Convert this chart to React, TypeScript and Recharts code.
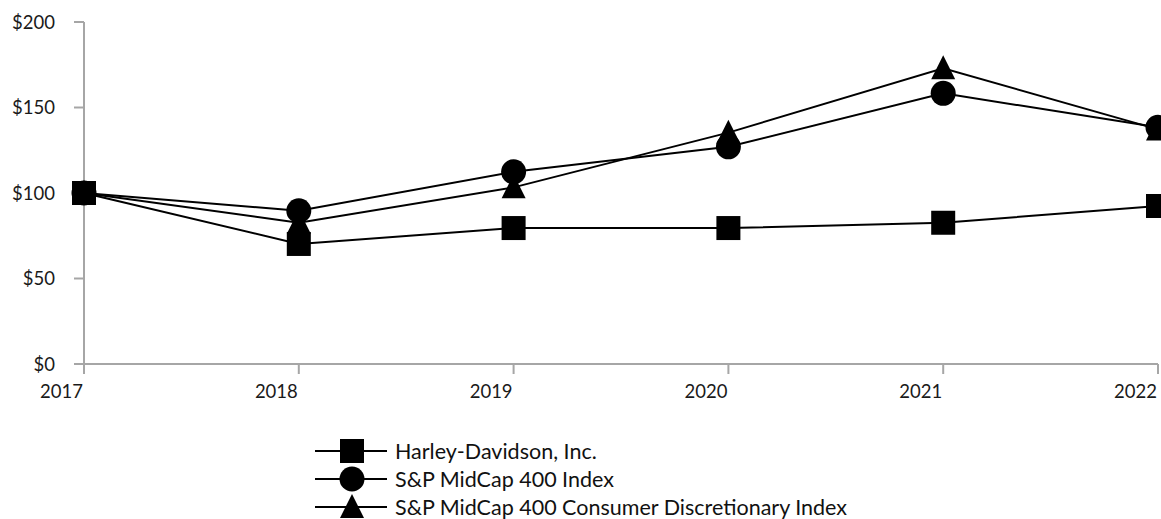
import { Line, LineChart, XAxis, YAxis } from "recharts";

const YEARS = ["2017", "2018", "2019", "2020", "2021", "2022"];
const HARLEY = [100, 70.2, 79.5, 79.5, 82.6, 92.4];
const MIDCAP = [100, 89.6, 112.4, 127, 158.3, 138.4];
const CONS_DISC = [100, 82.6, 103.3, 135.3, 173, 137.2];
const Y_TICKS = [0, 50, 100, 150, 200];

const SERIES = [
  { key: "harley", name: "Harley-Davidson, Inc.", shape: "square" },
  { key: "midcap", name: "S&P MidCap 400 Index", shape: "circle" },
  { key: "consDisc", name: "S&P MidCap 400 Consumer Discretionary Index", shape: "triangle" },
];

const data = YEARS.map((year, i) => ({
  year,
  harley: HARLEY[i],
  midcap: MIDCAP[i],
  consDisc: CONS_DISC[i],
}));

const FONT = "Lato, 'Open Sans', sans-serif";
const AXIS = "#a6a6a6";

function Marker({ shape, cx, cy }: { shape: string; cx: number; cy: number }) {
  if (shape === "square") {
    return <rect x={cx - 12} y={cy - 12} width={24} height={24} fill="#000" />;
  }
  if (shape === "circle") {
    return <circle cx={cx} cy={cy} r={12.5} fill="#000" />;
  }
  return (
    <path
      d={`M${cx},${cy - 13} L${cx + 12},${cy + 11} L${cx - 12},${cy + 11} Z`}
      fill="#000"
    />
  );
}

const makeDot = (shape: string) => (props: any) => {
  const { cx, cy, index } = props;
  if (cx == null || cy == null) return <g key={index} />;
  return (
    <g key={`${shape}-${index}`}>
      <Marker shape={shape} cx={cx} cy={cy} />
    </g>
  );
};

function XTick({ x, y, payload }: any) {
  return (
    <text
      x={x - 1}
      y={y + 22}
      textAnchor="end"
      fontFamily={FONT}
      fontSize={18.5}
      fill="#1a1a1a"
    >
      {payload.value}
    </text>
  );
}

function LegendBox() {
  return (
    <div
      style={{
        position: "absolute",
        left: 315,
        top: 437,
        fontFamily: FONT,
        fontSize: 21.5,
        color: "#111",
      }}
    >
      {SERIES.map((s) => (
        <div
          key={s.key}
          style={{ display: "flex", alignItems: "center", height: 28 }}
        >
          <svg width={80} height={28} style={{ overflow: "visible" }}>
            <line x1={0} y1={14} x2={72} y2={14} stroke="#000" strokeWidth={2} />
            <Marker shape={s.shape} cx={37} cy={14} />
          </svg>
          <span style={{ whiteSpace: "nowrap" }}>{s.name}</span>
        </div>
      ))}
    </div>
  );
}

export default function App() {
  return (
    <div
      style={{
        position: "absolute",
        left: 0,
        top: 0,
        width: 1161,
        height: 519,
        background: "#fff",
        overflow: "hidden",
      }}
    >
      <LineChart
        width={1161}
        height={519}
        data={data}
        margin={{ top: 22, right: 3, bottom: 0, left: 0 }}
      >
        <XAxis
          dataKey="year"
          height={155}
          stroke={AXIS}
          strokeWidth={2}
          tickSize={10}
          tickLine={{ stroke: AXIS, strokeWidth: 2 }}
          tick={<XTick />}
          interval={0}
        />
        <YAxis
          width={84}
          domain={[0, 200]}
          ticks={Y_TICKS}
          stroke={AXIS}
          strokeWidth={2}
          tickSize={10}
          tickMargin={19}
          tickLine={{ stroke: AXIS, strokeWidth: 2 }}
          tickFormatter={(v: number) => `$${v}`}
          tick={{ fontFamily: FONT, fontSize: 18.5, fill: "#1a1a1a" }}
        />
        {SERIES.map((s) => (
          <Line
            key={s.key}
            dataKey={s.key}
            name={s.name}
            type="linear"
            stroke="#000"
            strokeWidth={2}
            dot={makeDot(s.shape)}
            activeDot={false}
            isAnimationActive={false}
          />
        ))}
      </LineChart>
      <LegendBox />
    </div>
  );
}
